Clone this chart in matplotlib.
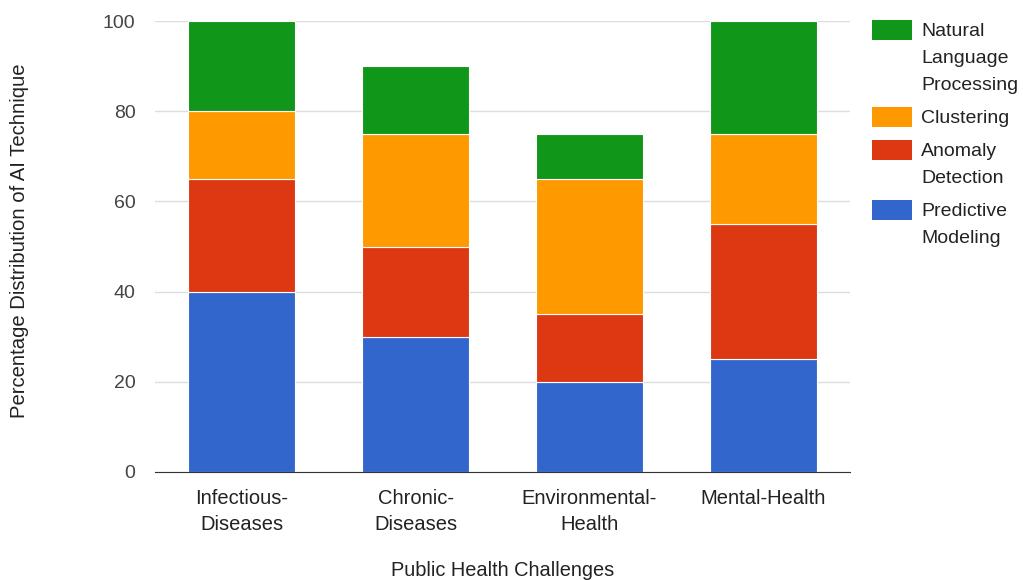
import matplotlib
matplotlib.use("Agg")
import matplotlib.pyplot as plt
from matplotlib.patches import Rectangle

plt.rcParams['font.family'] = ['Liberation Sans', 'DejaVu Sans']

categories = ["Infectious-\nDiseases", "Chronic-\nDiseases", "Environmental-\nHealth", "Mental-Health"]
series_names = ["Predictive\nModeling", "Anomaly\nDetection", "Clustering", "Natural\nLanguage\nProcessing"]
predictive = [40, 30, 20, 25]
anomaly = [25, 20, 15, 30]
clustering = [15, 25, 30, 20]
nlp = [20, 15, 10, 25]
colors = ["#3366cc", "#dc3912", "#ff9900", "#109618"]
yticks = [0, 20, 40, 60, 80, 100]

series = [predictive, anomaly, clustering, nlp]

fig = plt.figure(figsize=(10.23, 5.8), dpi=100)
ax = fig.add_axes([155/1023, 1-472/580, 695/1023, 451/580])

x = list(range(len(categories)))
bottom = [0]*len(categories)
for vals, col in zip(series, colors):
    ax.bar(x, vals, width=0.615, bottom=bottom, color=col, edgecolor='white', linewidth=0.8, zorder=3)
    bottom = [b+v for b, v in zip(bottom, vals)]

ax.set_xlim(-0.5, len(categories)-0.5)
ax.set_ylim(0, 100)
ax.set_yticks(yticks)
ax.set_yticklabels([str(t) for t in yticks], fontsize=14, color='#444444')
ax.set_xticks(x)
ax.set_xticklabels(categories, fontsize=14.5, color='#222222', linespacing=1.48)
ax.tick_params(axis='both', length=0)
ax.tick_params(axis='y', pad=14)
ax.tick_params(axis='x', pad=12)
ax.grid(axis='y', color='#dddddd', linewidth=1, zorder=0)
for s in ['top', 'right', 'left']:
    ax.spines[s].set_visible(False)
ax.spines['bottom'].set_color('#333333')
ax.spines['bottom'].set_zorder(4)

fig.text(503/1023, 1-571/580, "Public Health Challenges", fontsize=14.4, color='#222222', ha='center', va='center')
fig.text(20/1023, 1-241/580, "Percentage Distribution of AI Technique", fontsize=14.6, color='#222222',
         ha='center', va='center', rotation=90)

# legend (top to bottom: reversed series order)
leg_items = list(zip(series_names, colors))[::-1]
swatch_centers = [30, 117, 150, 210]
for (name, col), cy in zip(leg_items, swatch_centers):
    fig.add_artist(Rectangle((872/1023, 1-(cy+10)/580), 40/1023, 20/580, transform=fig.transFigure,
                             facecolor=col, edgecolor='none'))
    for i, line in enumerate(name.split("\n")):
        fig.text(921/1023, 1-(cy+6+i*27)/580, line, fontsize=14, color='#222222', ha='left', va='baseline')

fig.savefig("out.png", dpi=100)
